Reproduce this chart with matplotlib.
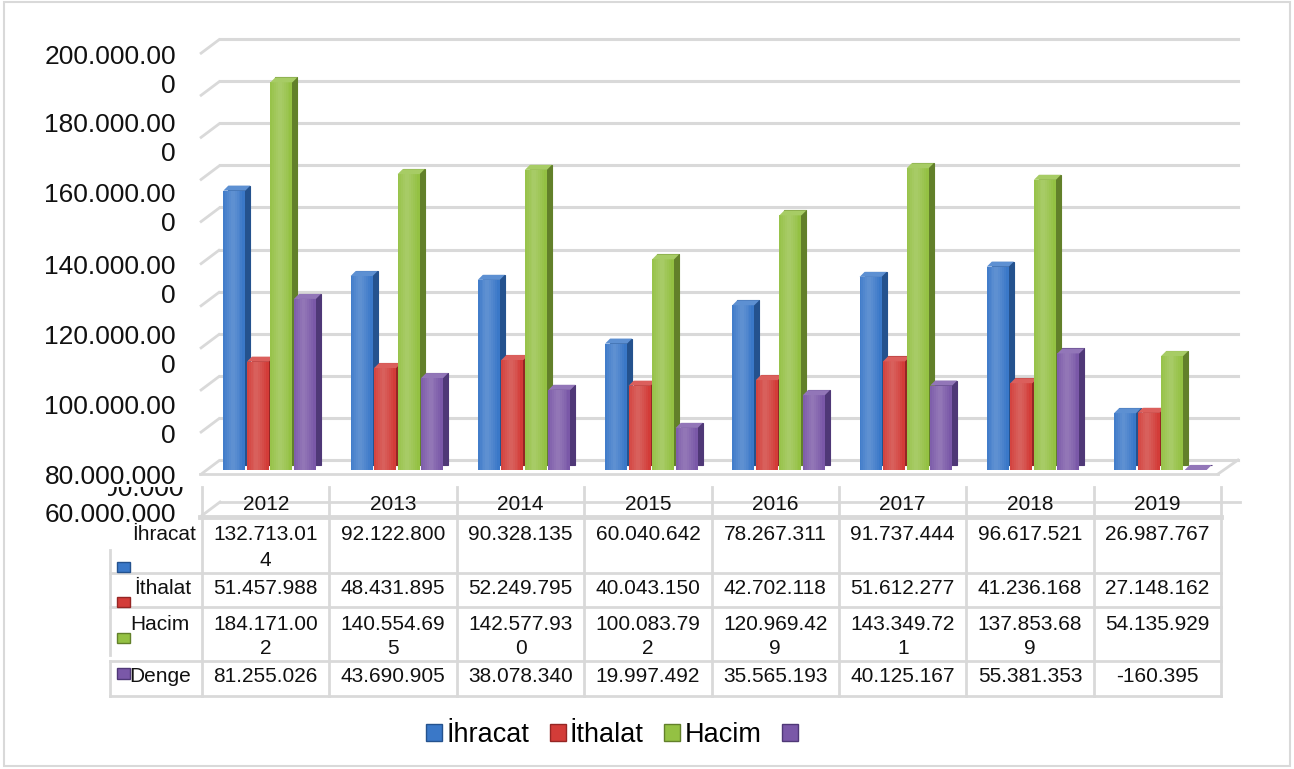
import numpy as np
import matplotlib
matplotlib.use("Agg")
import matplotlib.pyplot as plt
from matplotlib.patches import Rectangle, Patch, Polygon
from matplotlib.transforms import ScaledTranslation, Bbox, IdentityTransform
from matplotlib.colors import to_rgb

plt.rcParams['font.family'] = ['Liberation Sans', 'DejaVu Sans']

# ---------------- data ----------------
years = ['2012', '2013', '2014', '2015', '2016', '2017', '2018', '2019']
ihracat = [132713014, 92122800, 90328135, 60040642, 78267311, 91737444, 96617521, 26987767]
ithalat = [51457988, 48431895, 52249795, 40043150, 42702118, 51612277, 41236168, 27148162]
hacim = [184171002, 140554695, 142577930, 100083792, 120969429, 143349721, 137853689, 54135929]
denge = [81255026, 43690905, 38078340, 19997492, 35565193, 40125167, 55381353, -160395]
series_names = ['İhracat', 'İthalat', 'Hacim', 'Denge']
legend_labels = ['İhracat', 'İthalat', 'Hacim', '']
y_ticks = list(range(0, 200_000_001, 20_000_000))
y_labels_shown = [200_000_000, 180_000_000, 160_000_000, 140_000_000,
                  120_000_000, 100_000_000, 80_000_000, 60_000_000]
y_label_hidden = 40_000_000

# ---------------- style ----------------
FRONT = ['#3a78c8', '#d33c38', '#94c143', '#7a58a8']
SIDE = ['#24528e', '#952624', '#62802a', '#4f3877']
GRID = '#d9d9d9'
W, H = 1294, 769


def lighten(c, f=0.18):
    r, g, b = to_rgb(c)
    return (r + (1 - r) * f, g + (1 - g) * f, b + (1 - b) * f)


def fmt(v):
    return f"{v:,}".replace(",", ".")


def wrap(s, n=10):
    return [s[i:i + n] for i in range(0, len(s), n)]


fig = plt.figure(figsize=(W / 100, H / 100), dpi=100)


def frac(x0, y0, x1, y1):
    return [x0 / W, 1 - y1 / H, (x1 - x0) / W, (y1 - y0) / H]


# main (back wall) axes
ax = fig.add_axes(frac(220, 39, 1238, 460))
ax.axis('off')
ax.set_xlim(-0.5, 7.5)
ax.set_ylim(0, 200_000_000)
for v in y_ticks:
    ax.axhline(v, color=GRID, lw=2.2, zorder=1, clip_on=False)

data = [ihracat, ithalat, hacim, denge]
pitch, bw = 0.185, 0.173
D = 5  # depth of the bar in pixels
front_off = ax.transData + ScaledTranslation(-14 / 100, -10 / 100, fig.dpi_scale_trans)
side_off = ax.transData + ScaledTranslation((-14 + D) / 100, (-10 + D) / 100, fig.dpi_scale_trans)
x = np.arange(len(years))
for j, vals in enumerate(data):
    xs = x + (j - 1.5) * pitch
    ax.bar(xs, vals, width=bw, color=SIDE[j], edgecolor=SIDE[j], lw=0.8,
           transform=side_off, zorder=2 + 3 * j, clip_on=False)
    ax.bar(xs, vals, width=bw, color=FRONT[j], lw=0,
           transform=front_off, zorder=3 + 3 * j, clip_on=False)
    for w_, a_ in [(0.15, 0.045), (0.12, 0.045), (0.09, 0.045), (0.06, 0.045), (0.03, 0.04)]:
        ax.bar(xs - 0.012, vals, width=w_, color='white', alpha=a_, lw=0,
               transform=front_off, zorder=3.5 + 3 * j, clip_on=False)
    # top face of each bar (derived from the front face through the axes transform)
    for xc, v in zip(xs, vals):
        x0, ytop = front_off.transform((xc - bw / 2, max(v, 0)))
        x1, _ = front_off.transform((xc + bw / 2, max(v, 0)))
        top = Polygon([(x0, ytop), (x1, ytop), (x1 + D, ytop + D), (x0 + D, ytop + D)],
                      closed=True, facecolor=lighten(FRONT[j]), edgecolor='none',
                      transform=IdentityTransform(), zorder=4.5 + 3 * j, clip_on=False)
        ax.add_artist(top)

# ---------------- overlay in pixel space ----------------
ov = fig.add_axes([0, 0, 1, 1])
ov.set_xlim(0, W)
ov.set_ylim(H, 0)
ov.axis('off')
ov.patch.set_alpha(0)

# outer border
ov.add_patch(Rectangle((4, 2), 1286, 764, fill=False, edgecolor=GRID, lw=1.5))

# side wall diagonals for gridlines
for v in y_ticks:
    yb = H - ax.transData.transform((0, v))[1]
    ov.plot([200, 220], [yb + 15, yb], color=GRID, lw=2, solid_capstyle='butt')
# floor edges
ov.plot([200, 1218], [474, 474], color=GRID, lw=2)
ov.plot([1218, 1238], [474, 460], color=GRID, lw=2)
ov.plot([220, 1240], [502, 502], color=GRID, lw=2)
ov.plot([200, 220], [517, 502], color=GRID, lw=2)

# y labels (as rendered in the reference)
y_first = [57, 125, 195, 267, 337, 407, 477, 515]
for v, y0 in zip(y_labels_shown, y_first):
    for k, line in enumerate(wrap(fmt(v))):
        ov.text(176, y0 + 29 * k, line, ha='right', va='center', fontsize=19,
                color='#111111', zorder=10)
t = ov.text(184, 489, fmt(y_label_hidden), ha='right', va='center', fontsize=19,
            color='#111111', zorder=9)
t.set_clip_box(Bbox.from_extents(108, H - 506, 192, H - 487))
t.set_clip_on(True)

# ---------------- data table ----------------
col_left, col_w = 202, 127.4
edges = [col_left + col_w * i for i in range(len(years) + 1)]
row_edges = [517, 573, 607, 661, 696]
for xe in edges:
    ov.plot([xe, xe], [487, 696], color=GRID, lw=2, zorder=2)
ov.plot([200, edges[-1]], [517, 517], color=GRID, lw=3.5, zorder=2)
for ye in row_edges[1:]:
    ov.plot([110, edges[-1]], [ye, ye], color=GRID, lw=2, zorder=2)
ov.plot([110, 110], [550, 655], color=GRID, lw=2, zorder=2)
ov.plot([110, 110], [661, 696], color=GRID, lw=2, zorder=2)

TFS = 15
for i, yr in enumerate(years):
    ov.text(edges[i] + col_w / 2, 504, yr, ha='center', va='center', fontsize=TFS,
            color='#111111', zorder=5)

first_line_y = [535, 588, 624, 677]
label_x = [164, 163, 160, 160]
key_y = [(562, 572), (597, 607), (633, 643), (668, 679)]
for r, (name, vals) in enumerate(zip(series_names, data)):
    ov.text(label_x[r], first_line_y[r], name, ha='center', va='center',
            fontsize=TFS, color='#111111', zorder=5)
    y0, y1 = key_y[r]
    ov.add_patch(Rectangle((117, y0), 13, y1 - y0, facecolor=FRONT[r],
                           edgecolor=SIDE[r], lw=1, zorder=5))
    for i, v in enumerate(vals):
        for k, line in enumerate(wrap(fmt(v))):
            ov.text(edges[i] + col_w / 2, first_line_y[r] + 25 * k, line,
                    ha='center', va='center', fontsize=TFS, color='#111111', zorder=5)

# ---------------- legend ----------------
handles = [Patch(facecolor=FRONT[j], edgecolor=SIDE[j], lw=1) for j in range(4)]
fig.legend(handles, legend_labels, loc='center', bbox_to_anchor=(614 / W, 1 - 735 / H),
           ncol=4, frameon=False, fontsize=19.5, handlelength=0.6, handleheight=0.6,
           handletextpad=0.15, columnspacing=0.75)

fig.savefig('out.png', dpi=100)
